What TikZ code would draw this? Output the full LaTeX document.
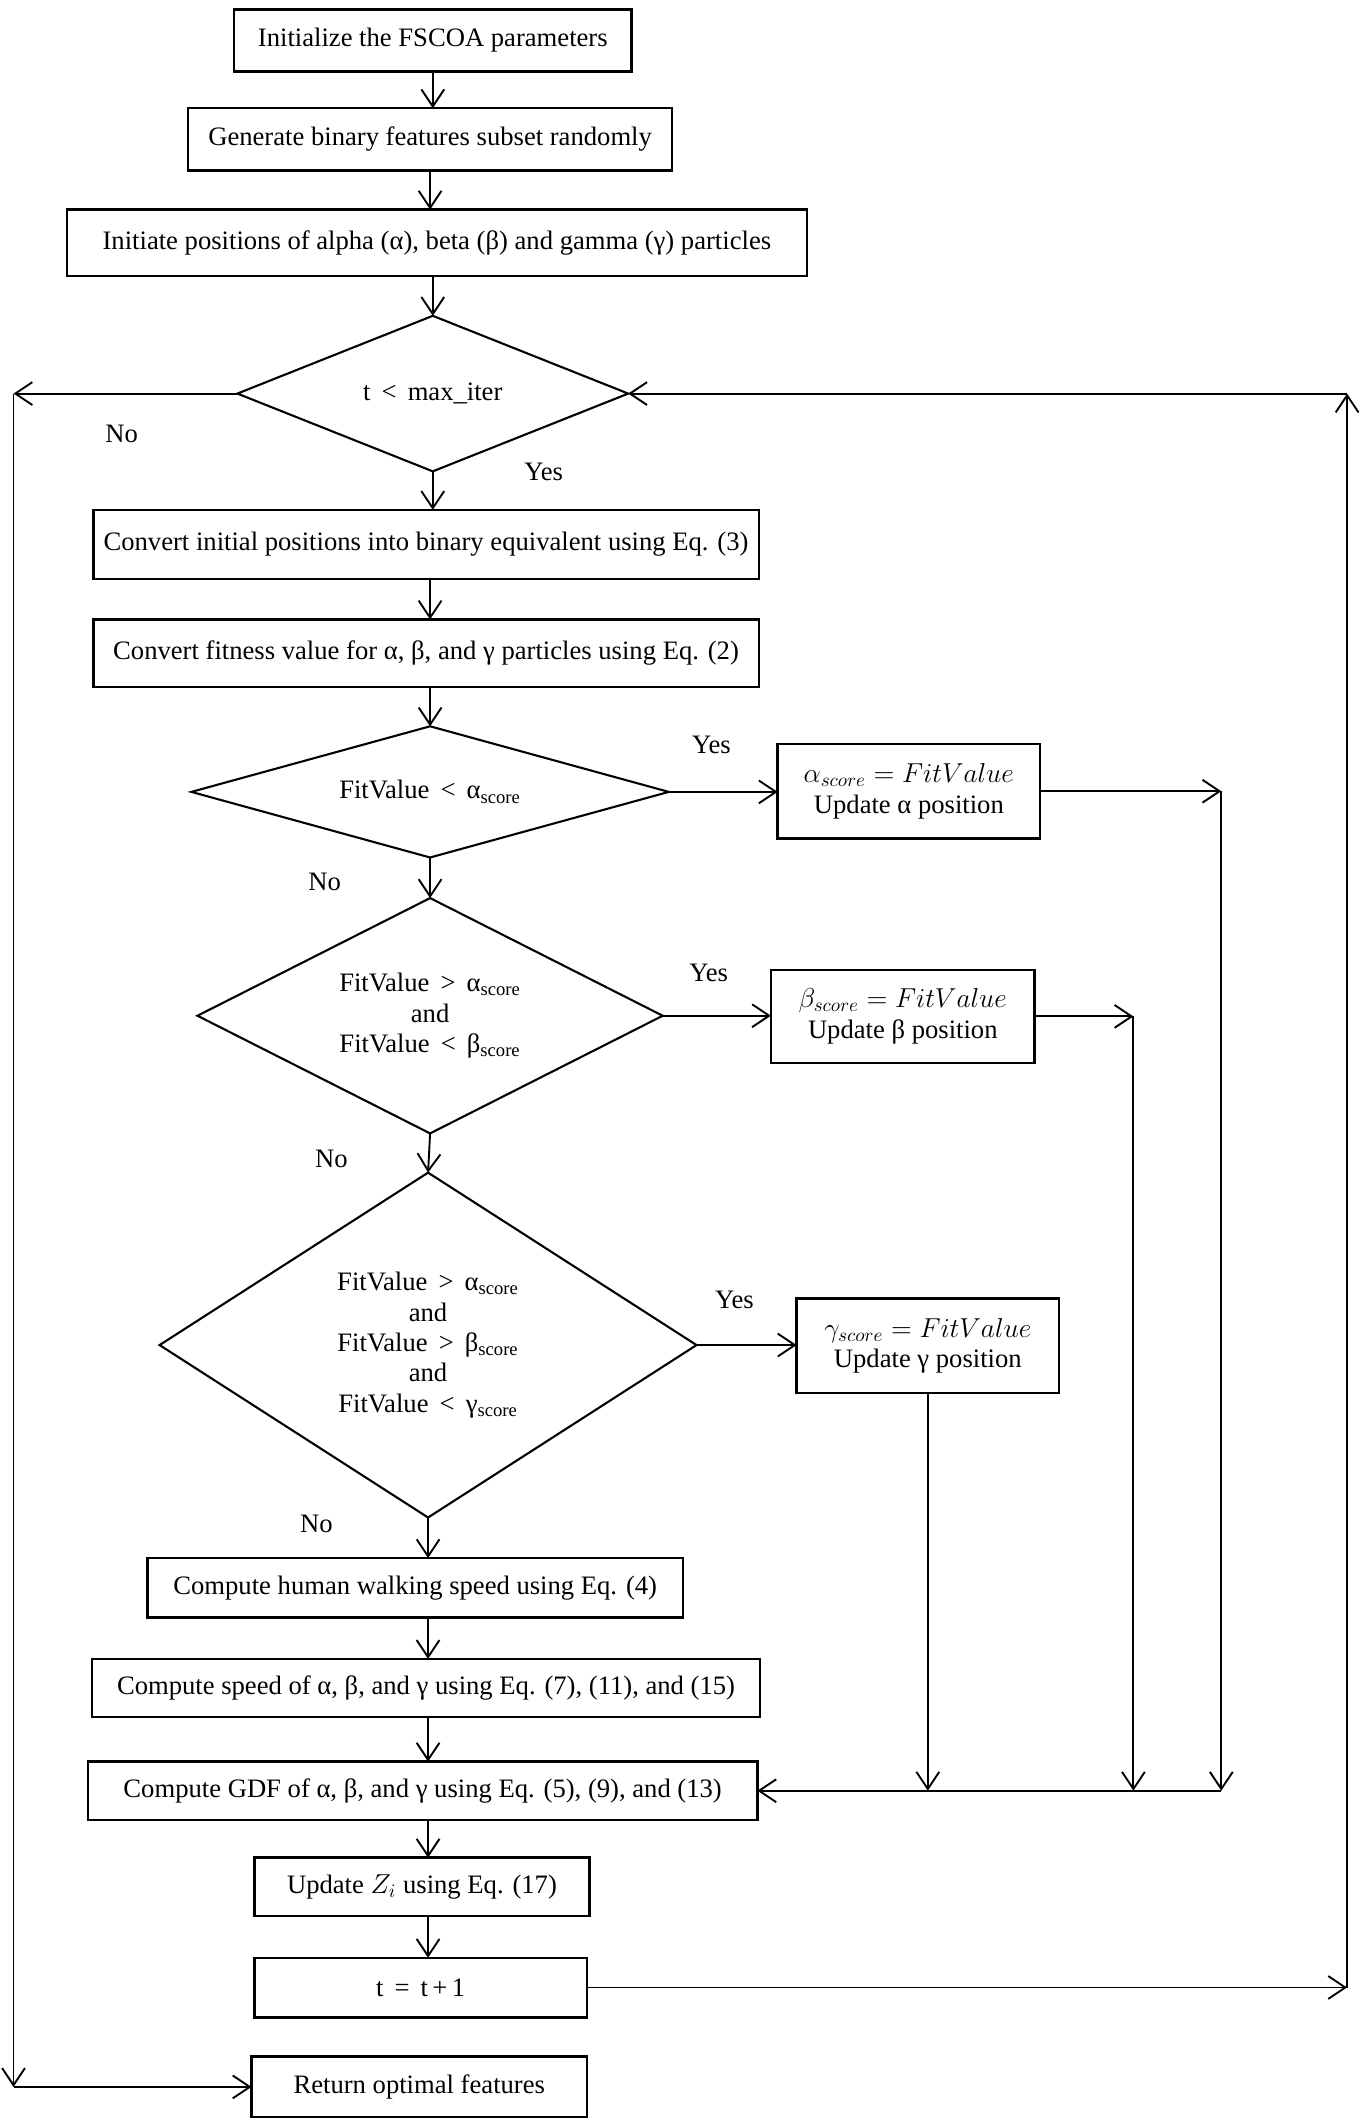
\documentclass[tikz,border=0pt]{standalone}
\usepackage{fontspec}
\setmainfont{Liberation Serif}
\usetikzlibrary{arrows.meta,shapes.geometric}
\begin{document}
\begin{tikzpicture}[x=0.025cm,y=-0.025cm,
  font=\fontsize{14}{16}\selectfont,
  sz/.style 2 args={minimum width=#1*0.025cm, minimum height=#2*0.025cm},
  box/.style={draw, line width=1.3pt, rectangle, inner sep=0pt, outer sep=0pt, align=center},
  dia/.style n args={3}{draw, line width=1.1pt, diamond, inner sep=0pt, outer sep=0pt, align=center,
    shape aspect=#3, minimum width=#1*0.025cm, minimum height=#2*0.025cm},
  arr/.style={line width=1pt, -{Straight Barb[length=9pt,width=12pt,line width=1pt]}},
  lbl/.style={inner sep=0pt}
]
\useasboundingbox (0,0) rectangle (1010,1566);

\node[box, sz={294}{46}] (b1) at (320,30) {Initialize the FSCOA parameters};
\node[box, sz={358}{46}] (b2) at (318,103) {Generate binary features subset randomly};
\node[box, sz={547}{49}] (b3) at (323,179.5) {Initiate positions of alpha (α), beta (β) and gamma (γ) particles};
\node[dia={289}{115}{2.513}] (d1) at (320,291) {t \,<\, max\_iter};
\node[box, sz={492}{51}] (b4) at (315,402.5) {Convert initial positions into binary equivalent using Eq. (3)};
\node[box, sz={492}{50}] (b5) at (315,483) {Convert fitness value for α, β, and γ particles using Eq. (2)};
\node[dia={353}{97}{3.639}] (d2) at (318,585.5) {FitValue \,<\, α\textsubscript{score}};
\node[box, sz={194}{70}] (ba) at (672,585) {$\alpha_{score} = FitValue$\\Update α position};
\node[dia={344}{174}{1.977}] (d3) at (318,751) {FitValue \,>\, α\textsubscript{score}\\and\\FitValue \,<\, β\textsubscript{score}};
\node[box, sz={195}{69}] (bb) at (667.5,751.5) {$\beta_{score} = FitValue$\\Update β position};
\node[dia={397}{255}{1.557}] (d4) at (316.5,994.5) {FitValue \,>\, α\textsubscript{score}\\and\\FitValue \,>\, β\textsubscript{score}\\and\\FitValue \,<\, γ\textsubscript{score}};
\node[box, sz={194}{70}] (bg) at (686,995) {$\gamma_{score} = FitValue$\\Update γ position};
\node[box, sz={396}{44}] (bh) at (307,1174) {Compute human walking speed using Eq. (4)};
\node[box, sz={494}{43}] (bs) at (315,1248) {Compute speed of α, β, and γ using Eq. (7), (11), and (15)};
\node[box, sz={495}{43}] (gdf) at (312.5,1324) {Compute GDF of α, β, and γ using Eq. (5), (9), and (13)};
\node[box, sz={248}{43}] (bz) at (312,1395) {Update $Z_i$ using Eq. (17)};
\node[box, sz={246}{44}] (bt) at (311,1469.5) {t \,=\, t\,+\,1};
\node[box, sz={248}{45}] (br) at (310,1543) {Return optimal features};

\node[lbl] (n1) at (90,321) {No};
\node[lbl] (y1) at (402,349) {Yes};
\node[lbl] (y2) at (526,551) {Yes};
\node[lbl] (n2) at (240,652) {No};
\node[lbl] (y3) at (524,719) {Yes};
\node[lbl] (n3) at (245,857) {No};
\node[lbl] (y4) at (543,961) {Yes};
\node[lbl] (n4) at (234,1127) {No};

\coordinate (ca) at (903,585);
\coordinate (cb) at (838,751.5);
\coordinate (tr) at (996,291);
\coordinate (tl) at (10,291);
\coordinate (bl) at (10,1543);

\draw[arr] (b1.south) -- (b1.south |- b2.north);
\draw[arr] (b2.south) -- (b2.south |- b3.north);
\draw[arr] (d1.north |- b3.south) -- (d1.north);
\draw[arr] (d1.south) -- (d1.south |- b4.north);
\draw[arr] (d2.north |- b4.south) -- (d2.north |- b5.north);
\draw[arr] (d2.north |- b5.south) -- (d2.north);
\draw[arr] (d2.south) -- (d3.north);
\draw[arr] (d3.south) -- (d4.north);
\draw[arr] (d4.south) -- (d4.south |- bh.north);
\draw[arr] (d4.south |- bh.south) -- (d4.south |- bs.north);
\draw[arr] (d4.south |- bs.south) -- (d4.south |- gdf.north);
\draw[arr] (d4.south |- gdf.south) -- (d4.south |- bz.north);
\draw[arr] (d4.south |- bz.south) -- (d4.south |- bt.north);

\draw[arr] (d2.east) -- (d2.east -| ba.west);
\draw[arr] (d3.east) -- (d3.east -| bb.west);
\draw[arr] (d4.east) -- (d4.east -| bg.west);

\draw[arr] (ba.east) -- (ca);
\draw[arr] (ca) -- (ca |- gdf.east);
\draw[arr] (bb.east) -- (cb);
\draw[arr] (cb) -- (cb |- gdf.east);
\draw[arr] (bg.south) -- (bg.south |- gdf.east);
\draw[arr] (ca |- gdf.east) -- (gdf.east);

\draw[arr] (bt.east) -- (bt.east -| tr);
\draw[arr] (bt.east -| tr) -- (tr);
\draw[arr] (tr) -- (d1.east);
\draw[arr] (d1.west) -- (tl);
\draw[arr] (tl) -- (bl);
\draw[arr] (bl) -- (br.west);
\end{tikzpicture}
\end{document}
